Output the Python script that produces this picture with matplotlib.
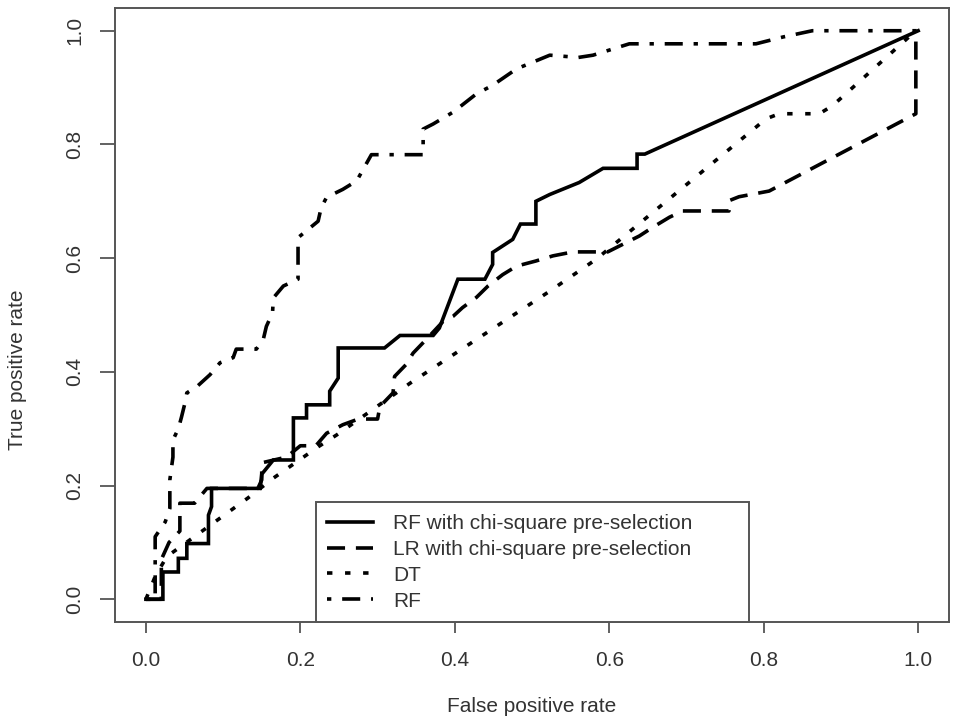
import matplotlib
matplotlib.use("Agg")
import matplotlib.pyplot as plt

# ROC curves (false positive rate, true positive rate)
rf_chi_fpr = [0.0, 0.022, 0.022, 0.042, 0.042, 0.053, 0.053, 0.081, 0.081, 0.085, 0.085,
              0.148, 0.150, 0.165, 0.191, 0.191, 0.208, 0.208, 0.238, 0.238, 0.249, 0.249,
              0.309, 0.329, 0.372, 0.380, 0.404, 0.439, 0.449, 0.449, 0.475, 0.485, 0.505,
              0.505, 0.523, 0.561, 0.592, 0.636, 0.636, 0.646, 1.0]
rf_chi_tpr = [0.0, 0.0, 0.048, 0.048, 0.072, 0.072, 0.098, 0.098, 0.148, 0.163, 0.195,
              0.195, 0.220, 0.245, 0.245, 0.319, 0.319, 0.342, 0.342, 0.366, 0.389, 0.442,
              0.442, 0.464, 0.464, 0.477, 0.563, 0.563, 0.589, 0.610, 0.633, 0.660, 0.660,
              0.700, 0.712, 0.733, 0.758, 0.758, 0.783, 0.783, 1.0]

lr_chi_fpr = [0.0, 0.02, 0.02, 0.03, 0.044, 0.044, 0.063, 0.079, 0.145, 0.15, 0.15, 0.182,
              0.20, 0.22, 0.234, 0.255, 0.275, 0.300, 0.303, 0.320, 0.322, 0.337, 0.346,
              0.363, 0.385, 0.398, 0.41, 0.428, 0.443, 0.462, 0.480, 0.505, 0.527, 0.553,
              0.598, 0.639, 0.656, 0.678, 0.695, 0.755, 0.755, 0.768, 0.807, 0.997, 0.997]
lr_chi_tpr = [0.0, 0.0, 0.07, 0.10, 0.12, 0.169, 0.169, 0.195, 0.195, 0.21, 0.24, 0.25,
              0.27, 0.27, 0.292, 0.307, 0.317, 0.317, 0.339, 0.363, 0.392, 0.413, 0.433,
              0.457, 0.489, 0.498, 0.513, 0.531, 0.551, 0.571, 0.586, 0.595, 0.604, 0.611,
              0.611, 0.639, 0.654, 0.672, 0.683, 0.683, 0.701, 0.708, 0.718, 0.854, 1.0]

dt_fpr = [0.0, 0.012, 0.027, 0.132, 0.165, 0.224, 0.247, 0.342, 0.523, 0.583, 0.803,
          0.820, 0.872, 0.889, 0.997]
dt_tpr = [0.0, 0.04, 0.075, 0.178, 0.213, 0.269, 0.289, 0.380, 0.542, 0.598, 0.845,
          0.854, 0.854, 0.868, 1.0]

rf_fpr = [0.0, 0.012, 0.012, 0.025, 0.031, 0.031, 0.035, 0.035, 0.042, 0.046, 0.05, 0.053,
          0.066, 0.083, 0.096, 0.113, 0.117, 0.143, 0.152, 0.156, 0.164, 0.165, 0.178,
          0.197, 0.197, 0.223, 0.227, 0.234, 0.255, 0.273, 0.292, 0.359, 0.359, 0.372,
          0.398, 0.428, 0.449, 0.480, 0.523, 0.56, 0.579, 0.626, 0.79, 0.825, 0.863, 1.0]
rf_tpr = [0.0, 0.0, 0.11, 0.136, 0.16, 0.21, 0.25, 0.28, 0.30, 0.32, 0.342, 0.363,
          0.374, 0.395, 0.416, 0.425, 0.44, 0.44, 0.457, 0.48, 0.504, 0.53, 0.551,
          0.563, 0.636, 0.665, 0.689, 0.707, 0.721, 0.736, 0.782, 0.782, 0.827, 0.836,
          0.857, 0.889, 0.904, 0.933, 0.957, 0.953, 0.957, 0.977, 0.977, 0.989, 1.0, 1.0]

labels = ["RF with chi-square pre-selection", "LR with chi-square pre-selection", "DT", "RF"]
ticks = [0.0, 0.2, 0.4, 0.6, 0.8, 1.0]
tick_labels = ["0.0", "0.2", "0.4", "0.6", "0.8", "1.0"]

plt.rcParams["font.family"] = ["Liberation Sans", "DejaVu Sans"]
grey = "#555555"
txt = "#333333"
fs = 15

fig = plt.figure(figsize=(9.6, 7.2), dpi=100)
ax = fig.add_axes([0.1198, 0.1361, 0.8688, 0.8528])

lw = 2.6
ax.plot(rf_chi_fpr, rf_chi_tpr, color="black", lw=lw, linestyle="-",
        solid_joinstyle="miter", label=labels[0])
ax.plot(lr_chi_fpr, lr_chi_tpr, color="black", lw=lw, linestyle=(0, (5, 3)),
        label=labels[1])
ax.plot(dt_fpr, dt_tpr, color="black", lw=lw, linestyle=(0, (1.5, 3.5)),
        label=labels[2])
ax.plot(rf_fpr, rf_tpr, color="black", lw=lw, linestyle=(0, (1.2, 3, 5, 3)),
        label=labels[3])

ax.set_xlim(-0.04, 1.04)
ax.set_ylim(-0.04, 1.04)
ax.set_xticks(ticks)
ax.set_xticklabels(tick_labels)
ax.set_yticks(ticks)
ax.set_yticklabels(tick_labels, rotation=90, va="center")
ax.tick_params(axis="x", length=8, width=1.3, color=grey, pad=13,
               labelsize=fs, labelcolor=txt)
ax.tick_params(axis="y", length=11, width=1.3, color=grey, pad=11,
               labelsize=fs, labelcolor=txt)
for s in ax.spines.values():
    s.set_color(grey)
    s.set_linewidth(1.4)

# axis titles, placed where the reference has them
fig.text(532 / 960, 1 - 706 / 720, "False positive rate", fontsize=fs, color=txt,
         ha="center", va="center")
fig.text(18 / 960, 1 - 370 / 720, "True positive rate", fontsize=fs, color=txt,
         ha="center", va="center", rotation=90)

leg = ax.legend(loc="lower left", bbox_to_anchor=(0.241, 0.0, 0.519, 0.2),
                mode="expand", borderaxespad=0, fancybox=False, fontsize=fs,
                handlelength=2.2, handletextpad=0.95, labelspacing=0.33,
                borderpad=0.55)
leg.get_frame().set_edgecolor(grey)
leg.get_frame().set_linewidth(1.4)
leg.get_frame().set_alpha(1)
for t in leg.get_texts():
    t.set_color(txt)

fig.savefig("out.png", dpi=100)
